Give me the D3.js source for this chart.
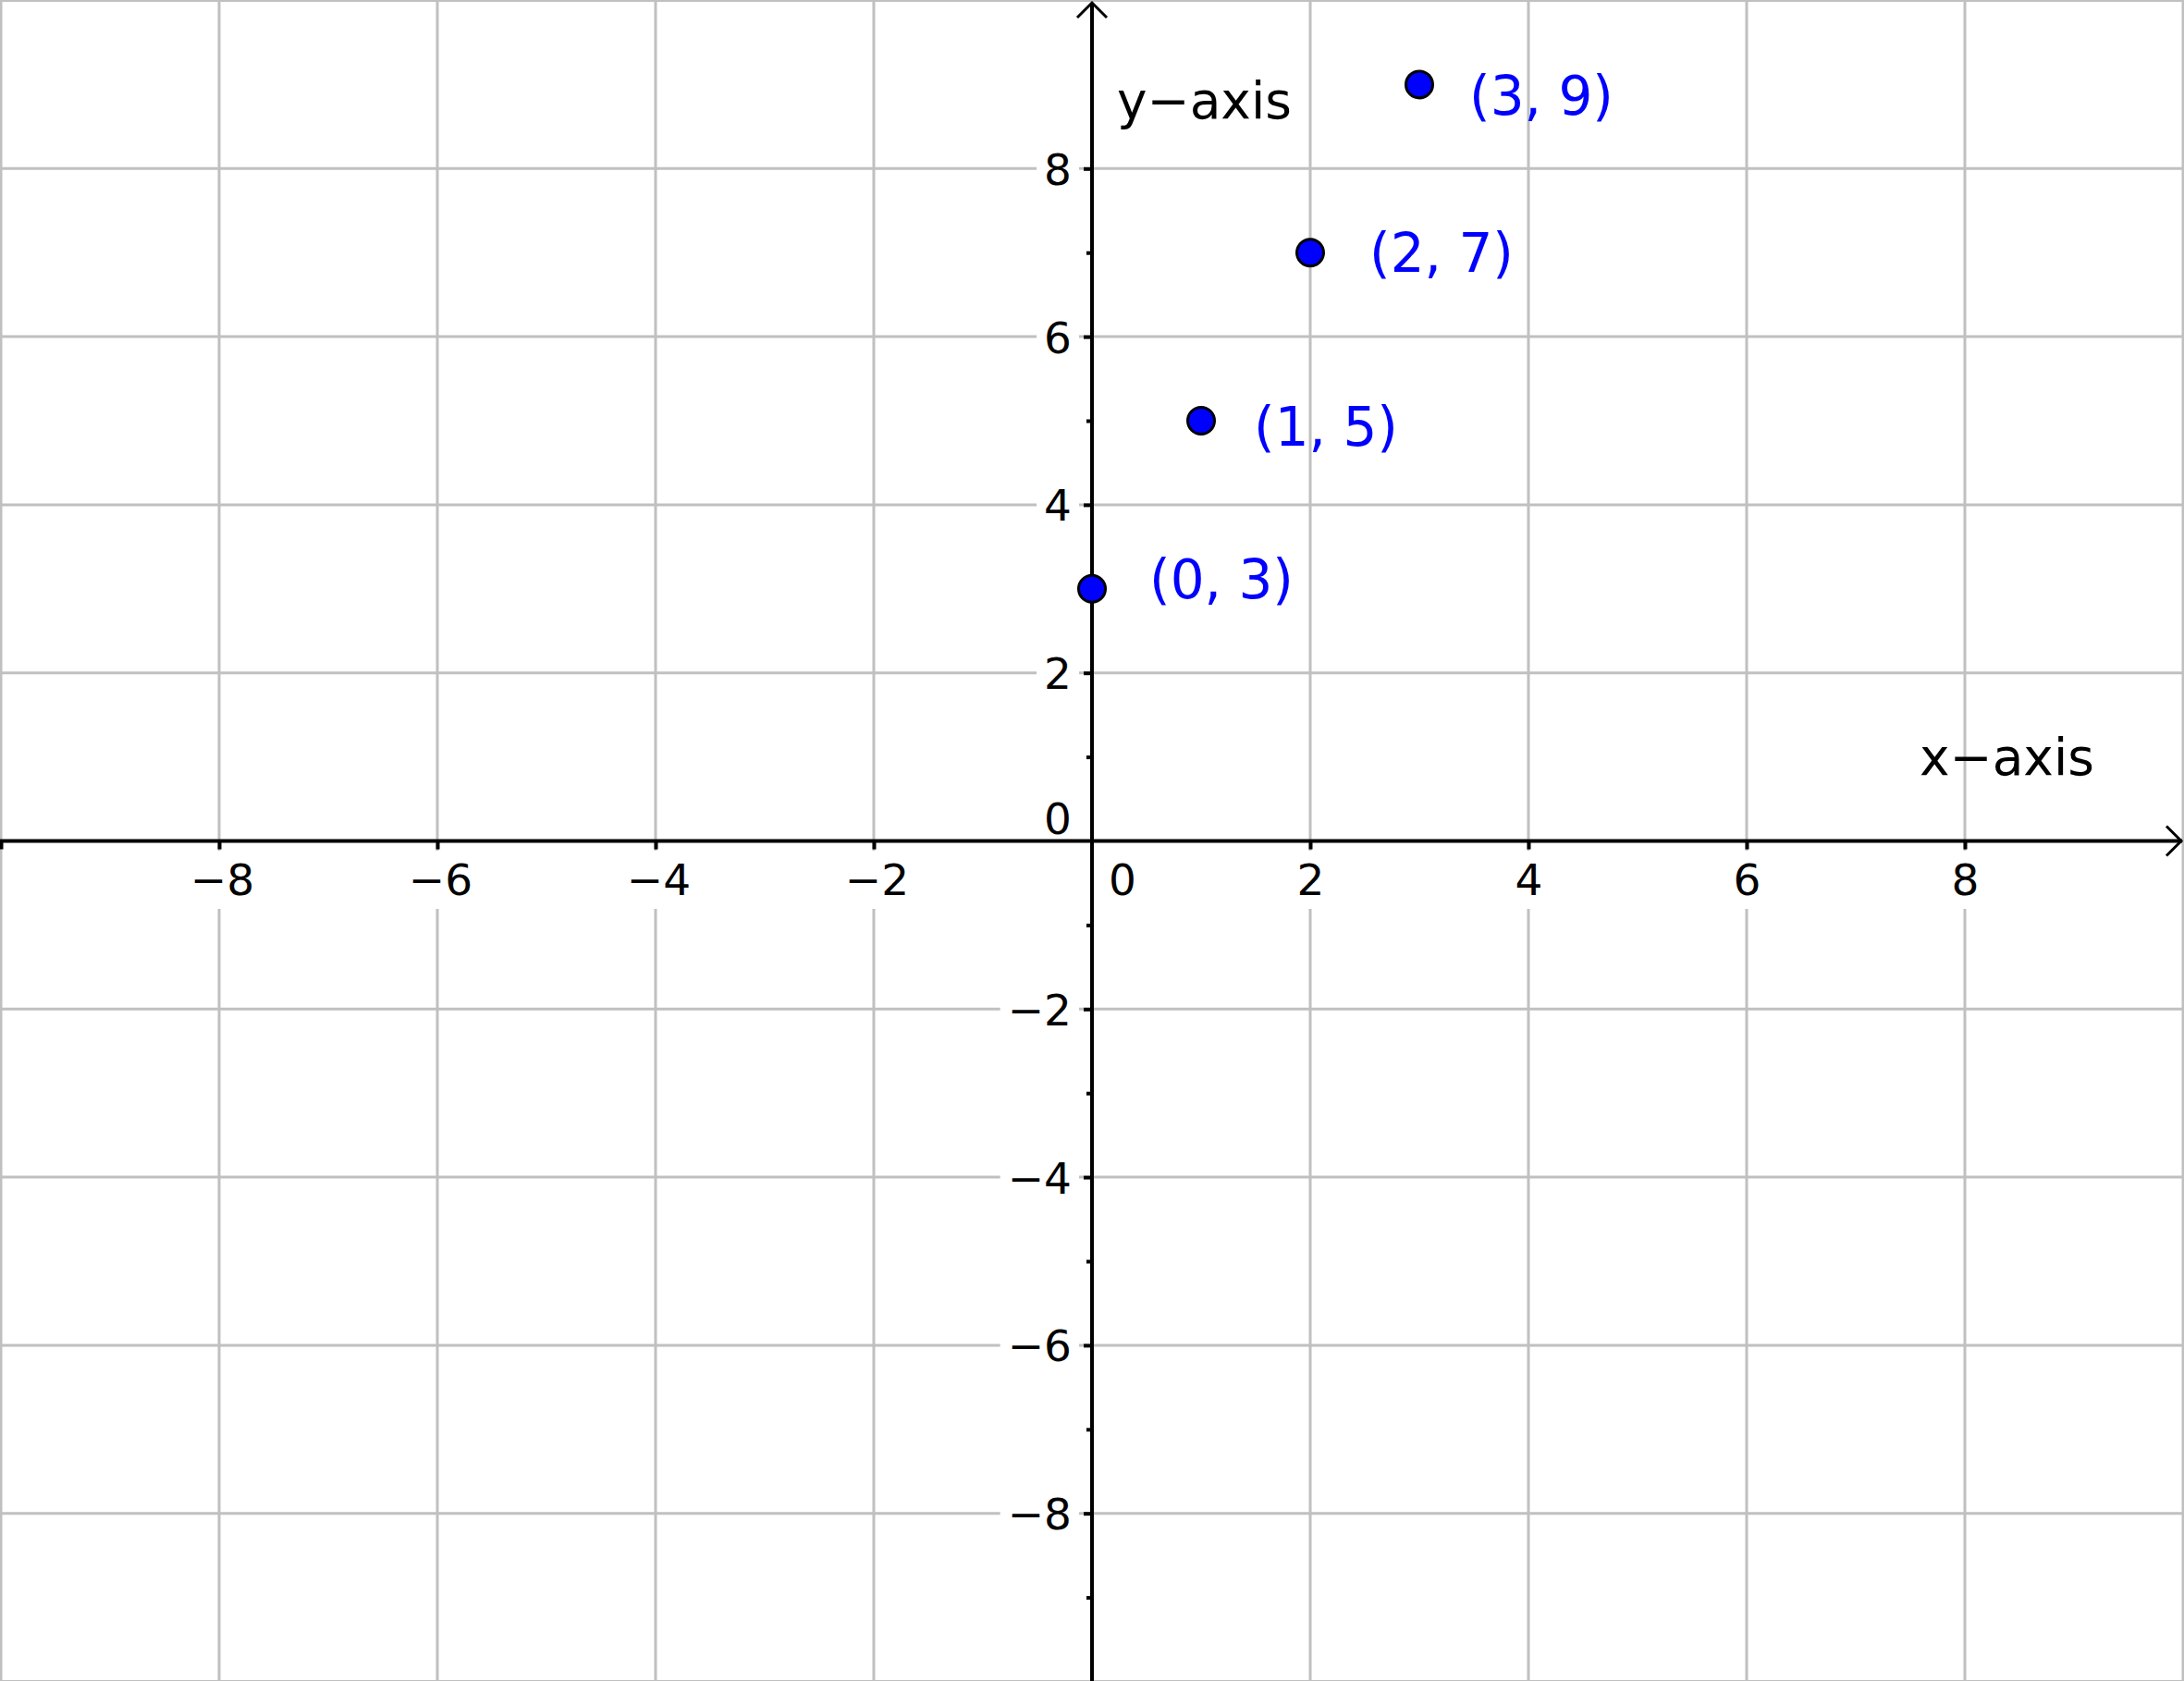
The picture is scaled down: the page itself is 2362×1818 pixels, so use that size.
<!DOCTYPE html>
<html>
<head>
<meta charset="utf-8">
<script src="https://cdn.jsdelivr.net/npm/d3@7"></script>
<style>
  html, body { margin: 0; padding: 0; background: #ffffff; }
  svg { display: block; }
  text { font-family: "DejaVu Sans", sans-serif; }
</style>
</head>
<body>
<svg id="chart" width="2362" height="1818"></svg>
<script>
// ---- data ----
const pointX = [0, 1, 2, 3];
const pointY = [3, 5, 7, 9];
const pointLabels = ["(0, 3)", "(1, 5)", "(2, 7)", "(3, 9)"];
const gridValues = [-10, -8, -6, -4, -2, 0, 2, 4, 6, 8, 10];
const xTickValues = [-10, -8, -6, -4, -2, 2, 4, 6, 8];
const xTickLabels = ["", "−8", "−6", "−4", "−2", "2", "4", "6", "8"];
const yMajorTicks = [-8, -6, -4, -2, 2, 4, 6, 8];
const yMajorLabels = ["−8", "−6", "−4", "−2", "2", "4", "6", "8"];
const yMinorTicks = [-9, -7, -5, -3, -1, 1, 3, 5, 7];
const xAxisTitle = "x−axis";
const yAxisTitle = "y−axis";
const originLabel = "0";

// ---- style (pixel offsets for point labels) ----
const labelOffsets = [[62, 10], [57, 27], [64, 21], [54, 33]];

const W = 2362, H = 1818;
const svg = d3.select("#chart");
const x = d3.scaleLinear().domain([-10, 10]).range([1, 2361]);
const y = d3.scaleLinear().domain([-10, 10]).range([1818.5, 0.5]);
const x0 = x(0), y0 = y(0);

// grid
const grid = svg.append("g").attr("stroke", "#c0c0c0").attr("stroke-width", 3);
grid.selectAll("line.v").data(gridValues.filter(d => d !== 0)).join("line")
  .attr("class", "v")
  .attr("x1", d => x(d)).attr("x2", d => x(d)).attr("y1", 0).attr("y2", H);
grid.selectAll("line.h").data(gridValues.filter(d => d !== 0)).join("line")
  .attr("class", "h")
  .attr("y1", d => y(d)).attr("y2", d => y(d)).attr("x1", 0).attr("x2", W);

const tickFont = 47;
const tickFamily = "'Noto Sans', 'DejaVu Sans', sans-serif";

// x axis ticks
const xAxis = d3.axisBottom(x)
  .tickValues(xTickValues)
  .tickSize(9)
  .tickFormat((d, i) => xTickLabels[i]);
const gx = svg.append("g").attr("transform", `translate(0,${y0})`).call(xAxis);
gx.select(".domain").remove();
gx.selectAll(".tick line").attr("stroke", "#000").attr("stroke-width", 4);
gx.selectAll(".tick text")
  .attr("fill", "#000")
  .attr("font-size", tickFont)
  .attr("font-family", tickFamily)
  .attr("dy", null)
  .attr("x", d => d < 0 ? 3 : 0)
  .attr("y", 968 - y0);

// y axis ticks (major with labels)
const yAxis = d3.axisLeft(y)
  .tickValues(yMajorTicks)
  .tickSize(9)
  .tickFormat((d, i) => yMajorLabels[i]);
const gy = svg.append("g").attr("transform", `translate(${x0},0)`).call(yAxis);
gy.select(".domain").remove();
gy.selectAll(".tick line").attr("stroke", "#000").attr("stroke-width", 4);
gy.selectAll(".tick text")
  .attr("fill", "#000")
  .attr("font-size", tickFont)
  .attr("font-family", tickFamily)
  .attr("dy", null)
  .attr("x", -22)
  .attr("y", 17);

// minor y ticks
const yMinorAxis = d3.axisLeft(y).tickValues(yMinorTicks).tickSize(6).tickFormat("");
const gym = svg.append("g").attr("transform", `translate(${x0},0)`).call(yMinorAxis);
gym.select(".domain").remove();
gym.selectAll(".tick line").attr("stroke", "#000").attr("stroke-width", 4);

// white backgrounds behind tick labels
function addBackgrounds(g) {
  g.selectAll(".tick").each(function () {
    const t = d3.select(this).select("text");
    if (t.empty() || !t.text()) return;
    const b = t.node().getBBox();
    d3.select(this).insert("rect", "text")
      .attr("x", b.x - 8).attr("y", b.y - 4)
      .attr("width", b.width + 16).attr("height", b.height + 8)
      .attr("fill", "#ffffff");
  });
}
addBackgrounds(gx);
addBackgrounds(gy);
gx.selectAll(".tick line").raise();
gy.selectAll(".tick line").raise();

// axis lines with arrowheads
const axes = svg.append("g").attr("stroke", "#000").attr("fill", "none");
axes.append("line").attr("x1", 0).attr("x2", W - 2).attr("y1", y0).attr("y2", y0).attr("stroke-width", 4);
axes.append("line").attr("x1", x0).attr("x2", x0).attr("y1", H).attr("y2", 3).attr("stroke-width", 4);
axes.append("path")
  .attr("d", `M${W - 19},${y0 - 16} L${W - 3},${y0} L${W - 19},${y0 + 16}`)
  .attr("stroke-width", 3).attr("stroke-linejoin", "miter");
axes.append("path")
  .attr("d", `M${x0 - 16},19 L${x0},3 L${x0 + 16},19`)
  .attr("stroke-width", 3).attr("stroke-linejoin", "miter");

// origin labels
svg.append("text").attr("x", x0 + 33).attr("y", 968).attr("text-anchor", "middle")
  .attr("font-size", tickFont).attr("font-family", tickFamily).attr("fill", "#000").text(originLabel);
svg.append("text").attr("x", x0 - 22).attr("y", 902).attr("text-anchor", "end")
  .attr("font-size", tickFont).attr("font-family", tickFamily).attr("fill", "#000").text(originLabel);

// axis titles
svg.append("text").attr("x", 2076).attr("y", 838).attr("font-size", 55)
  .attr("fill", "#000").text(xAxisTitle);
svg.append("text").attr("x", 1208).attr("y", 128).attr("font-size", 55)
  .attr("fill", "#000").text(yAxisTitle);

// points
const pts = pointX.map((d, i) => ({ x: d, y: pointY[i], label: pointLabels[i], off: labelOffsets[i] }));
svg.append("g").selectAll("circle").data(pts).join("circle")
  .attr("cx", d => x(d.x)).attr("cy", d => y(d.y)).attr("r", 14.5)
  .attr("fill", "#0000ff").attr("stroke", "#000").attr("stroke-width", 3);
svg.append("g").selectAll("text").data(pts).join("text")
  .attr("x", d => x(d.x) + d.off[0]).attr("y", d => y(d.y) + d.off[1])
  .attr("font-size", 58).attr("fill", "#0000ff").text(d => d.label);
</script>
</body>
</html>
